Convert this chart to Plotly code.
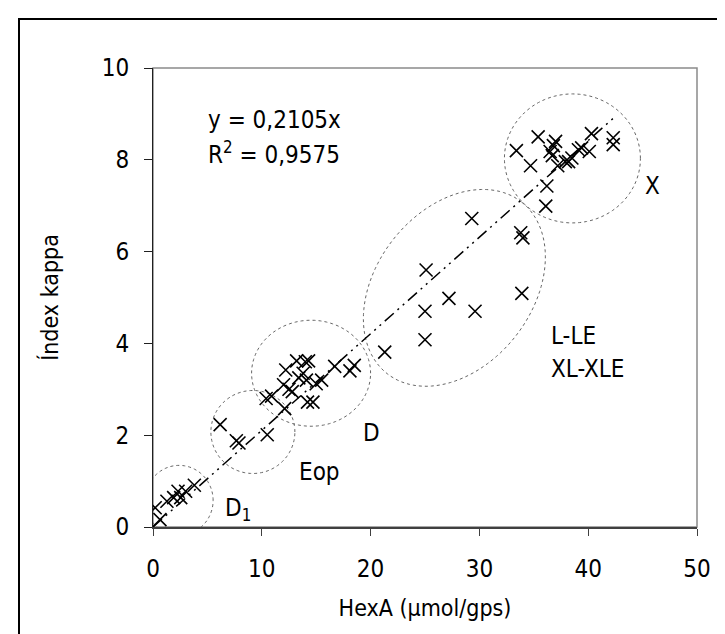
import math
import plotly.graph_objects as go

# ---------------- data ----------------
hexa_D1 = [0.2, 0.64, 1.28, 1.9, 2.3, 2.55, 3.0, 3.8]
kappa_D1 = [0.42, 0.16, 0.56, 0.64, 0.78, 0.64, 0.78, 0.91]

hexa_Eop = [6.17, 7.66, 7.9, 10.5]
kappa_Eop = [2.23, 1.88, 1.83, 2.01]

hexa_D = [10.4, 10.9, 12.1, 12.0, 12.2, 12.5, 12.8, 13.2, 13.4, 14.0,
          14.3, 13.8, 14.1, 14.2, 14.7, 15.0, 15.5, 16.7, 18.1, 18.5]
kappa_D = [2.80, 2.85, 2.58, 3.10, 3.42, 3.00, 2.95, 3.62, 3.25, 3.60,
           3.62, 3.35, 3.20, 2.72, 2.72, 3.12, 3.20, 3.50, 3.40, 3.52]

hexa_L = [21.3, 25.1, 25.0, 25.0, 27.2, 29.3, 29.6, 33.8, 34.0, 33.9]
kappa_L = [3.81, 5.60, 4.70, 4.08, 4.98, 6.72, 4.70, 6.41, 6.30, 5.09]

hexa_X = [33.4, 34.7, 35.4, 36.1, 36.2, 36.5, 36.8, 37.0, 36.7, 37.2,
          37.9, 38.2, 38.5, 39.1, 39.4, 40.1, 40.3, 42.3, 42.3]
kappa_X = [8.20, 7.87, 8.50, 6.99, 7.43, 8.18, 8.31, 8.40, 8.09, 7.87,
           7.96, 7.96, 8.04, 8.22, 8.26, 8.18, 8.57, 8.48, 8.33]

slope = 0.2105
r2 = 0.9575
trend_x = [0.0, 42.3]

x_ticks = [0, 10, 20, 30, 40, 50]
y_ticks = [0, 2, 4, 6, 8, 10]

hexa = hexa_D1 + hexa_Eop + hexa_D + hexa_L + hexa_X
kappa = kappa_D1 + kappa_Eop + kappa_D + kappa_L + kappa_X

# ---------------- layout geometry ----------------
W, H = 725, 634
ML, MR, MT, MB = 145, 36, 60, 115
plot_w = W - ML - MR
plot_h = H - MT - MB
XMAX, YMAX = 50, 10
sx = plot_w / XMAX   # px per x unit
sy = plot_h / YMAX   # px per y unit

FONT = "DejaVu Sans Condensed, DejaVu Sans, Tahoma, sans-serif"

fig = go.Figure()

# trend line
fig.add_trace(go.Scatter(
    x=trend_x, y=[slope * v for v in trend_x], mode="lines",
    line=dict(color="black", width=1.5, dash="12px,5px,2px,5px,2px,5px"),
    hoverinfo="skip", showlegend=False))

# points
fig.add_trace(go.Scatter(
    x=hexa, y=kappa, mode="markers",
    marker=dict(symbol="x-thin-open", size=13, color="black",
                line=dict(color="black", width=1.6)),
    showlegend=False))

# ellipses (center in data units, semi-axes in px, rotation deg)
ELLIPSES = [
    (2.4, 0.58, 34, 35, 0),
    (9.18, 2.07, 42, 41.5, 0),
    (14.53, 3.35, 59.5, 53, 0),
    (27.7, 5.21, 109, 78, 52),
    (38.55, 8.03, 68, 64.5, 0),
]
shapes = []
for cx, cy, a, b, ang in ELLIPSES:
    th = math.radians(ang)
    pts = []
    n = 120
    for i in range(n):
        t = 2 * math.pi * i / n
        px, py = a * math.cos(t), b * math.sin(t)
        dx = px * math.cos(th) - py * math.sin(th)
        dy = px * math.sin(th) + py * math.cos(th)
        pts.append((cx + dx / sx, cy + dy / sy))
    path = "M " + " L ".join(f"{x:.4f},{y:.4f}" for x, y in pts) + " Z"
    shapes.append(dict(type="path", path=path, xref="x", yref="y",
                       line=dict(color="#666666", width=1, dash="dot"),
                       layer="below"))

# plot frame (gray top/right)
shapes.append(dict(type="rect", xref="paper", yref="paper", x0=0, x1=1, y0=0, y1=1,
                   line=dict(color="#8a8a8a", width=1.5), layer="below"))
# outer border
shapes.append(dict(type="rect", xref="paper", yref="paper",
                   x0=(11 - ML) / plot_w, x1=(713 - ML) / plot_w,
                   y0=(H - MB - 645) / plot_h, y1=(H - MB - 11) / plot_h,
                   line=dict(color="black", width=2)))

annotations = [
    dict(x=4.85, y=8.87, text="y = 0,2105x", xanchor="left"),
    dict(x=4.85, y=8.15, text="R<sup>2</sup> = 0,9575", xanchor="left"),
    dict(x=45.9, y=7.43, text="X", xanchor="center"),
    dict(x=36.4, y=4.17, text="L-LE", xanchor="left"),
    dict(x=36.4, y=3.44, text="XL-XLE", xanchor="left"),
    dict(x=20.1, y=2.05, text="D", xanchor="center"),
    dict(x=13.2, y=1.19, text="Eop", xanchor="left"),
    dict(x=6.4, y=0.38, text="D<sub>1</sub>", xanchor="left"),
]
for an in annotations:
    an.update(xref="x", yref="y", showarrow=False, yanchor="middle",
              font=dict(family=FONT, size=24, color="black"))

fig.update_layout(
    width=W, height=H,
    margin=dict(l=ML, r=MR, t=MT, b=MB),
    paper_bgcolor="white", plot_bgcolor="white",
    font=dict(family=FONT, size=24, color="black"),
    shapes=shapes, annotations=annotations,
    xaxis=dict(range=[0, XMAX], tickvals=x_ticks, showgrid=False, zeroline=False,
               showline=True, linecolor="#404040", linewidth=2,
               ticks="outside", ticklen=7, tickcolor="#404040", tickwidth=1,
               ticklabelstandoff=12, tickfont=dict(size=24),
               title=dict(text="HexA (\u03bcmol/gps)", font=dict(size=23), standoff=18)),
    yaxis=dict(range=[0, YMAX], tickvals=y_ticks, showgrid=False, zeroline=False,
               showline=True, linecolor="#202020", linewidth=1,
               ticks="outside", ticklen=8, tickcolor="#202020", tickwidth=1,
               ticklabelstandoff=10, tickfont=dict(size=24),
               title=dict(text="\u00cdndex kappa", font=dict(size=23), standoff=36)),
)

fig.write_html("out.html")
